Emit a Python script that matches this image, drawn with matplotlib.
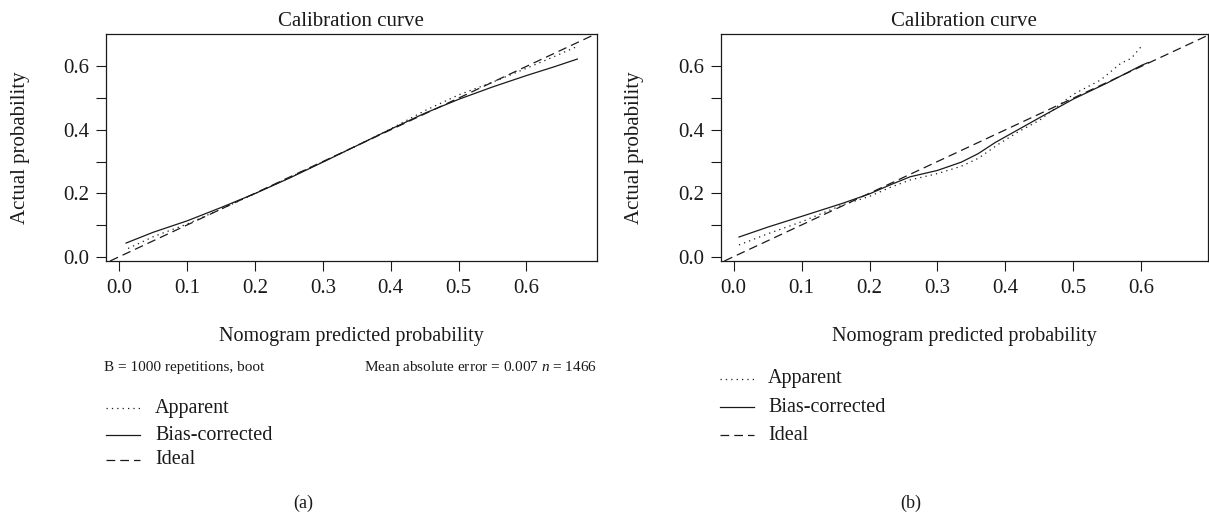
import numpy as np
import matplotlib
matplotlib.use("Agg")
import matplotlib.pyplot as plt
from matplotlib.lines import Line2D

plt.rcParams['font.family'] = ['Liberation Serif', 'DejaVu Serif']
plt.rcParams['mathtext.fontset'] = 'custom'
plt.rcParams['mathtext.rm'] = 'Liberation Serif'
plt.rcParams['mathtext.it'] = 'Liberation Serif:italic'

# panel (a) curves
a_bias_x = [0.01, 0.05, 0.1, 0.15, 0.2, 0.25, 0.3, 0.35, 0.4, 0.45, 0.5, 0.55, 0.6, 0.64, 0.675]
a_bias_y = [0.043, 0.077, 0.113, 0.155, 0.199, 0.247, 0.298, 0.35, 0.402, 0.452, 0.496, 0.535, 0.571, 0.598, 0.623]
a_app_x = [0.013, 0.05, 0.1, 0.15, 0.2, 0.25, 0.3, 0.35, 0.4, 0.45, 0.5, 0.55, 0.6, 0.64, 0.674]
a_app_y = [0.026, 0.063, 0.103, 0.15, 0.199, 0.249, 0.299, 0.35, 0.403, 0.46, 0.51, 0.55, 0.594, 0.63, 0.662]

# panel (b) curves
b_bias_x = [0.008, 0.05, 0.1, 0.16, 0.2, 0.23, 0.26, 0.3, 0.335, 0.36, 0.385, 0.4, 0.45, 0.5, 0.55, 0.6, 0.61]
b_bias_y = [0.062, 0.093, 0.127, 0.168, 0.198, 0.226, 0.252, 0.272, 0.298, 0.325, 0.36, 0.378, 0.438, 0.497, 0.548, 0.603, 0.612]
b_app_x = [0.008, 0.05, 0.1, 0.16, 0.2, 0.23, 0.26, 0.3, 0.335, 0.36, 0.39, 0.42, 0.45, 0.5, 0.54, 0.57, 0.585, 0.6]
b_app_y = [0.037, 0.072, 0.11, 0.163, 0.19, 0.218, 0.242, 0.262, 0.285, 0.31, 0.355, 0.395, 0.43, 0.512, 0.557, 0.61, 0.625, 0.663]

legend_labels = ['Apparent', 'Bias-corrected', 'Ideal']
ticks = [0.0, 0.1, 0.2, 0.3, 0.4, 0.5, 0.6]
B_reps = 1000
mae = 0.007
n_obs = 1466

W, H = 1209, 516
def fx(p):
    return p / W
def fy(p):
    return 1 - p / H

ink = '#1a1a1a'
dot = (0, (1, 3.3))
dash = (0, (7, 4))
styles = [dot, '-', dash]

fig = plt.figure(figsize=(W / 100, H / 100), dpi=100)


def panel(left, right, xlim, app_x, app_y, bias_x, bias_y):
    ax = fig.add_axes([fx(left), fy(261), (right - left) / W, (261 - 34) / H])
    ax.plot(app_x, app_y, color=ink, lw=0.9, ls=dot)
    ax.plot(bias_x, bias_y, color=ink, lw=0.9, ls='-')
    ax.axline((0, 0), slope=1, color=ink, lw=0.9, ls=dash)
    ax.set_xlim(*xlim)
    ax.set_ylim(-0.0136, 0.702)
    ax.set_xticks(ticks)
    ax.set_xticklabels(['%.1f' % t for t in ticks])
    ax.set_yticks(ticks)
    ax.set_yticklabels(['%.1f' % t if i % 2 == 0 else '' for i, t in enumerate(ticks)])
    ax.tick_params(axis='y', direction='out', length=7.4, width=0.8, labelsize=15, pad=4.5, colors=ink)
    ax.tick_params(axis='x', direction='out', length=7.3, width=0.8, labelsize=15, pad=6, colors=ink)
    for s in ax.spines.values():
        s.set_linewidth(0.9)
        s.set_color(ink)
    return ax


ax_a = panel(106, 597, (-0.0196, 0.704), a_app_x, a_app_y, a_bias_x, a_bias_y)
ax_b = panel(721, 1208, (-0.0185, 0.698), b_app_x, b_app_y, b_bias_x, b_bias_y)

# titles and axis labels
for cx, ylx in [(351, 21), (964, 635)]:
    fig.text(fx(cx), fy(21), 'Calibration curve', ha='center', va='center', fontsize=15, color=ink)
    fig.text(fx(ylx), fy(148), 'Actual probability', ha='center', va='center', rotation=90, fontsize=15, color=ink)
    fig.text(fx(cx), fy(337), 'Nomogram predicted probability', ha='center', va='center', fontsize=14.5, color=ink)

fig.text(fx(104), fy(367), 'B = %d repetitions, boot' % B_reps, ha='left', va='center', fontsize=11, color=ink)
fig.text(fx(597), fy(367), 'Mean absolute error = %.3f $n$ = %d' % (mae, n_obs),
         ha='right', va='center', fontsize=11, color=ink)

# legends
for x0, x1, xt, rows in [(106, 140, 155, [408, 435, 460]), (720, 754, 768, [379, 407, 435])]:
    for lab, ls, y in zip(legend_labels, styles, rows):
        fig.add_artist(Line2D([fx(x0), fx(x1)], [fy(y), fy(y)], transform=fig.transFigure,
                              color=ink, lw=0.9, ls=ls))
        fig.text(fx(xt), fy(y), lab, ha='left', va='center', fontsize=14.5, color=ink)

fig.text(fx(303), fy(503), '(a)', ha='center', va='center', fontsize=13, color=ink)
fig.text(fx(911), fy(503), '(b)', ha='center', va='center', fontsize=13, color=ink)

fig.savefig('out.png', dpi=100)
